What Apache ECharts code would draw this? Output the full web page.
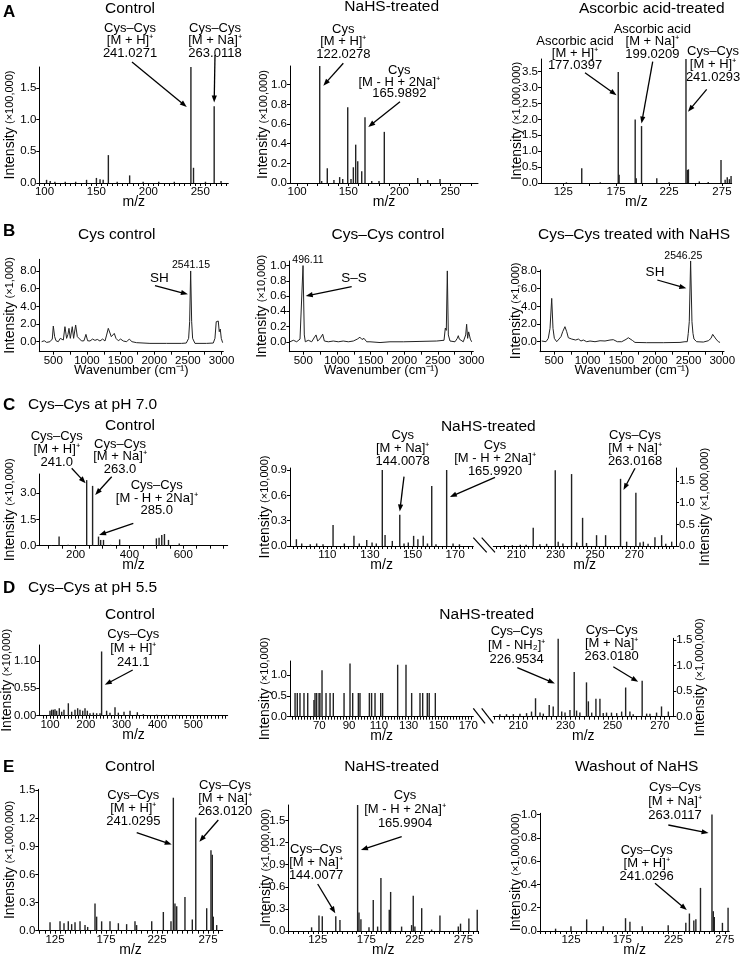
<!DOCTYPE html>
<html><head><meta charset="utf-8">
<script src="https://cdn.jsdelivr.net/npm/echarts@6/dist/echarts.min.js"></script>
<style>html,body{margin:0;padding:0;background:#fff}#c{width:741px;height:954px}</style>
</head><body><div id="c"></div>
<script>
// ---------------- DATA ----------------
const aCtrlMz = [102,105.5,110,120,130,140.5,150,153.5,156.5,161.5,170,182,195,210,225,241,243.5,255,263.4,270];
const aCtrlInt = [0.05,0.03,0.02,0.02,0.02,0.05,0.08,0.06,0.05,0.44,0.02,0.12,0.02,0.02,0.02,1.83,0.24,0.02,1.21,0.03];
const aNaMz = [122.1,124,129.5,136,141.6,144.6,149.5,152.7,155,157.3,159.3,163.2,166.4,173,180.1,185.3,218,227.8,239.8];
const aNaInt = [1.19,0.02,0.15,0.03,0.06,0.04,0.77,0.04,0.16,0.39,0.22,0.12,0.67,0.02,0.02,0.52,0.05,0.03,0.04];
const aAscMz = [128,142.5,160,177,177.8,193,194,199,213.4,225,241,242.3,243.3,253.6,262,274.1,278,280,282,283.6];
const aAscInt = [0.02,0.46,0.02,3.49,0.26,2.0,0.15,1.79,0.15,0.02,3.9,0.41,0.43,0.05,0.03,0.72,0.1,0.18,0.12,0.22];

const bCysWn = [327,366,401,450,485,500,520,540,574,604,624,649,673,698,718,733,753,782,802,832,857,886,921,956,985,1010,1045,1084,1119,1154,1193,1233,1268,1292,1317,1337,1362,1382,1406,1431,1466,1500,1540,1590,1629,1669,1738,1936,2184,2407,2476,2511,2526,2541,2556,2570,2605,2778,2877,2902,2921,2936,2951,2966,2981,2996,3016];
const bCysInt = [0,0.11,-0.08,0,0.3,1.77,0.57,0.11,0,0.38,0.57,0.19,1.7,0.38,0.83,1.51,0.38,1.7,0.38,1.89,0.57,0.57,0.08,0.11,0.83,0.11,0.08,0.3,0.15,0.26,0.08,0.3,0.08,0.75,1.51,1.58,0.57,0.75,0.94,0.38,0.11,0.3,0.08,0,0.3,0,-0.11,-0.19,-0.19,-0.19,-0.15,0.38,2.26,8.0,2.26,0.38,-0.19,-0.19,-0.15,0.38,2.26,2.45,2.34,1.13,1.43,0.38,-0.11];
const bCCWn = [302,352,402,451,476,496,515,530,574,625,659,689,714,748,788,813,872,946,1020,1094,1169,1243,1302,1342,1372,1402,1442,1491,1640,1788,1986,2234,2482,2591,2610,2625,2640,2655,2680,2754,2788,2803,2818,2877,2913,2927,2942,2957,2967,2982,3002];
const bCCInt = [0,0.02,0,0.035,0.02,1.0,0.09,0,0.02,0,0.05,0.09,0.01,0.04,0.1,0.01,0,0.01,0,0.01,0,0.01,0.035,0.06,0.03,0.045,0,0,-0.01,0,0,0.005,0.01,0.02,0.18,0.15,0.93,0.09,0.01,0,0.045,0.08,0.035,0,0.09,0.23,0.045,0.13,0.15,0.035,0];
const bNaWn = [317,341,381,415,441,466,485,505,540,574,604,629,663,689,713,738,763,787,822,862,901,936,986,1035,1109,1184,1258,1332,1381,1406,1441,1506,1570,1604,1629,1664,1703,1877,2124,2372,2446,2480,2495,2510,2530,2550,2565,2580,2600,2620,2719,2793,2833,2858,2877,2907,2942,2967];
const bNaInt = [0.08,0.3,0,0.38,1.51,4.9,1.51,0.38,0,0.3,0.57,1.13,1.7,1.13,0.45,0.57,0.3,0.45,0.19,0.3,0.08,0.19,0,0.08,0,0.11,0.08,0.19,0.23,0.38,0,0,0.26,0.45,0.57,0.15,-0.08,-0.11,-0.11,-0.08,0,0,0.94,2.26,9.13,2.26,0.94,0.3,0.19,0,-0.04,0.11,0.38,0.83,0.75,0.3,0,-0.08];

const cCtrlMz = [110,138.5,172,200,241,263,285,293,303.5,330,363.5,400,460,500,510,520,530,545,585,600];
const cCtrlInt = [0.04,0.52,0.06,0.03,3.75,3.42,0.52,0.33,0.33,0.05,0.36,0.03,0.04,0.42,0.46,0.61,0.67,0.33,0.13,0.03];
const cNaLMz = [95.5,98,102,105,108,112.7,118,122.5,125,128.5,131,133,135.8,137.1,140.5,144,146,148,150.5,152.5,155,157,159,161,166,169,172];
const cNaLInt = [0.08,0.03,0.02,0.03,0.02,0.25,0.03,0.12,0.03,0.07,0.04,0.03,0.9,0.13,0.06,0.37,0.03,0.04,0.12,0.08,0.12,0.03,0.71,0.02,0.9,0.03,0.02];
const cNaRMz = [204,208,212,215,218.6,222,225.4,229.8,231.3,233.7,238.1,240.7,243.7,245.7,250.8,255.4,263,266.1,270.8,272.9,274.6,277,280.5,283.9,286,289];
const cNaRInt = [0.02,0.02,0.03,0.03,0.42,0.04,0.05,1.75,0.1,0.06,1.66,0.08,0.65,0.07,0.25,0.25,1.55,0.1,1.23,0.08,0.1,0.05,0.2,0.25,0.05,0.1];

const dCtrlMz = [100,104.7,109.3,114,118.6,126,132.6,139,151.2,160.5,169.8,177.2,183.7,191.2,197.7,204.2,211.6,221,230.2,239.5,244,258,267.4,281.4,290.7,306.5,323.3,343.7,360.5,397.7,425.6,453.5];
const dCtrlInt = [0.1,0.12,0.12,0.13,0.1,0.15,0.08,0.12,0.25,0.08,0.12,0.15,0.12,0.1,0.15,0.1,0.05,0.06,0.05,0.05,1.29,0.1,0.06,0.17,0.06,0.08,0.1,0.07,0.03,0.02,0.02,0.02];
const dNaLMz = [53.7,55.2,57,59.7,62.2,66.4,67.1,68.2,69.8,70.4,71.8,74.5,77.2,79.4,86.6,90.6,92.4,96.2,97.3,103.6,105.1,107.4,111.2,112.5,122.6,128.2,132,137.6,139.4,142.5,143.8,147.9];
const dNaLInt = [0.57,0.57,0.57,0.57,0.57,0.4,0.57,0.57,0.57,0.57,1.12,0.57,0.57,0.57,0.57,1.28,0.57,0.57,0.57,0.57,0.57,0.57,0.57,0.57,1.25,1.25,0.57,0.57,0.57,0.57,0.57,0.57];
const dNaRMz = [202.2,205,207.9,210.7,213.5,215.6,217.3,219.2,220.6,223.1,224.8,226.9,228.4,229.8,231.9,233.7,234.7,236.1,238.9,239.7,241.1,242.9,244.6,246,247.4,249.5,251.7,253.8,255.5,257.3,258.7,262.5,264.4,265.8,268.6,270.7,273.6];
const dNaRInt = [0.05,0.05,0.05,0.06,0.07,0.1,0.36,0.08,0.06,0.23,0.2,1.52,0.1,0.08,0.13,0.87,0.12,0.08,0.67,0.3,0.08,0.35,0.35,0.07,0.08,0.08,0.07,0.1,0.57,0.1,0.05,0.7,0.06,0.06,0.08,0.2,0.1];

const eCtrlMz = [120.1,129.9,133.8,138,141.3,144.6,149.5,154.4,157,164.2,165.8,170.7,178.9,187.1,195.2,203.4,205,219.8,231.2,238.7,241,242.6,244.3,252.4,259.6,263,273.7,277.9,279.2,280.2,283.5];
const eCtrlInt = [0.09,0.1,0.08,0.1,0.07,0.09,0.1,0.06,0.04,0.29,0.15,0.1,0.1,0.08,0.07,0.1,0.06,0.1,0.2,0.1,1.42,0.29,0.26,0.36,0.12,1.21,0.24,0.86,0.81,0.15,0.06];
const eNaMz = [118.6,126.2,129.6,143.5,147.8,166,167.4,169.4,177.7,182.1,186.6,190,198.6,200,211.3,221.6,223.3,225,232,242.2,250.8,269.7,272,280.6,289.2];
const eNaInt = [0.05,0.21,0.2,0.2,0.15,1.71,0.25,0.16,0.05,0.42,0.06,0.72,0.29,0.53,0.06,0.08,0.48,0.06,0.31,0.02,0.21,0.06,0.1,0.17,0.29];
const eWashMz = [110,125,140.3,156.5,178.2,182.5,194.5,219.8,237,240.5,244.8,246.8,251.3,262.5,263.8,264.8,272.7,278.2];
const eWashInt = [0.02,0.04,0.1,0.04,0.11,0.08,0.04,0.05,0.07,0.15,0.09,0.1,0.37,1.0,0.17,0.12,0.07,0.2];

// ---------------- LAYOUT ----------------
const F = '"Liberation Sans", Arial, Helvetica, sans-serif';
function seq(a,b,s){const r=[];for(let i=0;;i++){const v=+(a+i*s).toFixed(6);if(v>b+1e-9)break;r.push(v);}return r;}
function zip(a,b){return a.map((v,i)=>[v,b[i]]);}
const WN = 'Wavenumber (cm⁻¹)';

const panels = [
 {g:[39.3,67,189,116], x:[95,277], y:[0,1.83], xt:seq(95,275,5), xl:[100,150,200,250], yl:seq(0,1.5,0.5), dec:1, yn:'(×100,000)', yg:22, d:zip(aCtrlMz,aCtrlInt)},
 {g:[290,66,188,117], x:[93,277], y:[0,1.19], xt:seq(100,270,10), xl:[100,150,200,250], yl:seq(0,1,0.2), dec:1, yn:'(×100,000)', yg:19.5, d:zip(aNaMz,aNaInt)},
 {g:[541,59,190.7,124], x:[104,284.2], y:[0,3.9], xt:seq(125,275,25), xl:[125,175,225,275], yl:seq(0,3.5,0.5), dec:1, yn:'(×1,000,000)', yg:17, d:zip(aAscMz,aAscInt)},
 {g:[39.3,259.3,184,92.4], x:[292,3026], y:[-1.13,9.32], xt:seq(500,3000,250), xl:seq(500,3000,500), yl:seq(0,8,2), dec:1, yn:'(×1,000)', yg:22, d:zip(bCysWn,bCysInt), line:true, xn:WN},
 {g:[289.3,261,184,90.7], x:[292,3026], y:[-0.13,1.06], xt:seq(500,3000,250), xl:seq(500,3000,500), yl:seq(0,1,0.2), dec:1, yn:'(×10,000)', yg:20.5, d:zip(bCCWn,bCCInt), line:true, xn:WN},
 {g:[540,270,184,81.7], x:[292,3026], y:[-1.13,8.11], xt:seq(500,3000,250), xl:seq(500,3000,500), yl:seq(0,8,2), dec:1, yn:'(×1,000)', yg:17, d:zip(bNaWn,bNaInt), line:true, xn:WN},
 {g:[39.3,474,188.4,71.7], x:[65,765], y:[0,4.1], xt:seq(100,750,50), xl:[200,400,600], yl:[0,1.5,3], dec:1, yn:'(×10,000)', yg:22, d:zip(cCtrlMz,cCtrlInt)},
 {g:[290,468,183.3,78], x:[92.5,178.5], y:[0,0.924], xt:seq(94,178,2), xl:[110,130,150,170], yl:seq(0,0.9,0.3), dec:1, yn:'(×10,000)', yg:18, d:zip(cNaLMz,cNaLInt)},
 {g:[493.3,468,182.7,78], x:[198.3,291.2], y:[0,1.8], xt:seq(200,290,2), xl:[210,230,250,270], yl:seq(0,1.5,0.5), dec:1, yn:'(×1,000,000)', yg:22, d:zip(cNaRMz,cNaRInt), right:true},
 {g:[39.3,645,188.4,70.7], x:[70.2,595.8], y:[0,1.42], xt:seq(80,590,10), xl:[100,200,300,400,500], yl:[0,0.55,1.1], dec:2, yn:'(×10,000)', yg:25, d:zip(dCtrlMz,dCtrlInt)},
 {g:[290,661,183.3,55.7], x:[50.3,173.4], y:[0,1.34], xt:seq(52,172,2), xl:[70,90,110,130,150,170], yl:[0,0.5,1], dec:1, yn:'(×10,000)', yg:18, d:zip(dNaLMz,dNaLInt)},
 {g:[493.3,638.3,180,78.4], x:[199.4,275.7], y:[0,1.53], xt:seq(200,274,2), xl:[210,230,250,270], yl:seq(0,1.5,0.5), dec:1, yn:'(×1,000,000)', yg:20, d:zip(dNaRMz,dNaRInt), right:true},
 {g:[38.3,789.3,184.4,141.4], x:[108.6,289.4], y:[0,1.51], xt:seq(110,285,5), xl:[125,175,225,275], yl:seq(0,1.5,0.3), dec:1, yn:'(×1,000,000)', yg:21, d:zip(eCtrlMz,eCtrlInt)},
 {g:[288.3,805,190,126], x:[94.6,290.3], y:[0,1.71], xt:seq(95,290,5), xl:[125,175,225,275], yl:seq(0,1.5,0.3), dec:1, yn:'(×1,000,000)', yg:15, d:zip(eNaMz,eNaInt)},
 {g:[540,813.3,189.3,117.7], x:[94.8,279.4], y:[0,1.01], xt:seq(95,275,5), xl:[125,175,225,275], yl:seq(0,1,0.2), dec:1, yn:'(×1,000,000)', yg:17, d:zip(eWashMz,eWashInt)}
];

const option = {
  animation:false,
  backgroundColor:'#fff',
  textStyle:{fontFamily:F},
  grid: panels.map(p=>({left:p.g[0], top:p.g[1], width:p.g[2], height:p.g[3], containLabel:false, outerBoundsMode:'none'})),
  xAxis: panels.map((p,i)=>({
    type:'value', gridIndex:i, min:p.x[0], max:p.x[1],
    axisLine:{show:true,onZero:false,lineStyle:{color:'#000',width:1}},
    axisTick:{show:true,length:3,lineStyle:{color:'#000',width:1},customValues:p.xt},
    axisLabel:{show:true,customValues:p.xl,fontSize:11.5,color:'#000',margin:3,fontFamily:F,hideOverlap:false,formatter:v=>String(v)},
    splitLine:{show:false},
    name:p.xn||'m/z', nameLocation:'middle', nameGap:12, nameMoveOverlap:false,
    nameTextStyle:{fontSize:p.xn?13:14,color:'#000',fontFamily:F}
  })),
  yAxis: panels.map((p,i)=>({
    type:'value', gridIndex:i, min:p.y[0], max:p.y[1], position:p.right?'right':'left',
    axisLine:{show:true,onZero:false,lineStyle:{color:'#000',width:1}},
    axisTick:{show:true,length:3,lineStyle:{color:'#000',width:1},customValues:p.yl},
    axisLabel:{show:true,customValues:p.yl,fontSize:11.5,color:'#000',margin:3,fontFamily:F,hideOverlap:false,formatter:v=>v.toFixed(p.dec)},
    splitLine:{show:false},
    name:'{a|Intensity} {b|'+p.yn+'}', nameLocation:'middle', nameRotate:90, nameGap:p.yg, nameMoveOverlap:false,
    nameTextStyle:{color:'#000',rich:{a:{fontSize:14,fontFamily:F,color:'#000'},b:{fontSize:11,fontFamily:F,color:'#000'}}}
  })),
  series: panels.map((p,i)=> p.line ? {
    type:'line', xAxisIndex:i, yAxisIndex:i, data:p.d, symbol:'none', clip:false,
    lineStyle:{color:'#222',width:1}, silent:true
  } : {
    type:'bar', xAxisIndex:i, yAxisIndex:i, data:p.d, barWidth:1.4,
    itemStyle:{color:'#222'}, silent:true
  })
};

const chart = echarts.init(document.getElementById('c'), null, {renderer:'canvas', width:741, height:954});
chart.setOption(option);

// ---------------- ANNOTATIONS ----------------
const titles = [
 ['A',3,12,17,'left',true],['Control',130,9,15.5],['NaHS-treated',391.7,7,15.5],['Ascorbic acid-treated',651.7,8.5,15.5],
 ['B',3,231,17,'left',true],['Cys control',116.7,235,15.5],['Cys–Cys control',388,235,15.5],['Cys–Cys treated with NaHS',634,235,15.5],
 ['C',3,405,17,'left',true],['Cys–Cys at pH 7.0',28,405,15.5,'left'],['Control',130,425.7,15.5],['NaHS-treated',488.3,426.7,15.5],
 ['D',3,588,17,'left',true],['Cys–Cys at pH 5.5',28,588,15.5,'left'],['Control',130,614.3,15.5],['NaHS-treated',486.7,614.3,15.5],
 ['E',3,767,17,'left',true],['Control',130,767,15.5],['NaHS-treated',391.7,767,15.5],['Washout of NaHS',636.7,767,15.5],
 ['2541.15',191,265,10.5],['SH',159.3,278.3,13.5],['496.11',308,260,10.5],['S–S',354,278.3,13.5],['2546.25',683.3,256,10.5],['SH',655,272.3,13.5]
];
const notes = [
 ['Cys–Cys\n[M + H]⁺\n241.0271',130,40.5,12.5],
 ['Cys–Cys\n[M + Na]⁺\n263.0118',215,40.5,12.5],
 ['Cys\n[M + H]⁺\n122.0278',343.3,41.8,12.5],
 ['Cys\n[M - H + 2Na]⁺\n165.9892',399.3,82.2,11.7],
 ['Ascorbic acid\n[M + H]⁺\n177.0397',575,53.3,11.7],
 ['Ascorbic acid\n[M + Na]⁺\n199.0209',652.3,41.7,12.3],
 ['Cys–Cys\n[M + H]⁺\n241.0293',713,64.3,12.8],
 ['Cys–Cys\n[M + H]⁺\n241.0',56.7,449.4,12.8],
 ['Cys–Cys\n[M + Na]⁺\n263.0',120,456.9,12.8],
 ['Cys–Cys\n[M - H + 2Na]⁺\n285.0',156.7,498.4,12.5],
 ['Cys\n[M + Na]⁺\n144.0078',402.7,448.8,13],
 ['Cys\n[M - H + 2Na]⁺\n165.9920',495,458.6,13],
 ['Cys–Cys\n[M + Na]⁺\n263.0168',635,448.1,13],
 ['Cys–Cys\n[M + H]⁺\n241.1',133.3,648.5,13.6],
 ['Cys–Cys\n[M - NH₂]⁺\n226.9534',516.7,645.6,14],
 ['Cys–Cys\n[M + Na]⁺\n263.0180',611.7,643.3,13.3],
 ['Cys–Cys\n[M + H]⁺\n241.0295',133.3,808.3,13.3],
 ['Cys–Cys\n[M + Na]⁺\n263.0120',225,798.3,13.3],
 ['Cys\n[M - H + 2Na]⁺\n165.9904',405,809.3,14],
 ['Cys–Cys\n[M + Na]⁺\n144.0077',316,862.8,13],
 ['Cys–Cys\n[M + Na]⁺\n263.0117',675,801,14],
 ['Cys–Cys\n[M + H]⁺\n241.0296',646.7,863.1,13]
];
// [gridIndex, tail pixel, head in data coords]
const arrows = [
 [0,[132,62],[237,1.2]],[0,[215,55],[263.4,1.27]],
 [1,[343.3,63.3],[125.6,0.99]],[1,[400,101.7],[169.6,0.57]],
 [2,[585,72.7],[175.4,2.76]],[2,[652.7,61.7],[199,1.87]],[2,[706.7,89.3],[242.9,2.24]],
 [3,[155,285.7],[2500,5.36]],[4,[351.7,286.7],[536,0.6]],[5,[657.3,280],[2466,6.04]],
 [6,[71.7,468.3],[237,3.57]],[6,[111.7,476.7],[272.7,2.9]],[6,[133.3,523.3],[287,0.61]],
 [7,[404,476.7],[144,0.41]],[7,[495,477.3],[167.5,0.58]],[8,[635,468.3],[264.5,1.29]],
 [9,[132.7,670],[253,0.62]],[11,[517.3,667.7],[225.5,0.65]],[11,[613.3,666.7],[260.8,0.68]],
 [12,[136.7,832.7],[239.4,0.92]],[12,[218.3,820],[266.5,0.95]],
 [13,[401.7,836.7],[169.4,1.1]],[13,[317.7,884],[143,0.24]],
 [14,[668.3,825],[259.2,0.84]],[14,[655,883.3],[238,0.18]]
];
const breaks = [
 [[473.3,537.7],[486.7,552.3]],[[481.7,537.7],[495,552.3]],
 [[473.3,708.3],[485,723.3]],[[481.7,708.3],[493.3,723.3]]
];

const els = [];
titles.forEach(t=>{
  els.push({type:'text', x:t[1], y:t[2], silent:true, style:{text:t[0], fontSize:t[3], fontFamily:F, fontWeight:t[5]?'bold':'normal', fill:'#000', align:t[4]||'center', verticalAlign:'middle'}});
});
notes.forEach(n=>{
  els.push({type:'text', x:n[1], y:n[2], silent:true, style:{text:n[0], fontSize:13, fontFamily:F, fill:'#000', align:'center', verticalAlign:'middle', lineHeight:n[3]}});
});
arrows.forEach(a=>{
  const t=a[1], h=chart.convertToPixel({gridIndex:a[0]}, a[2]);
  const dx=h[0]-t[0], dy=h[1]-t[1], L=Math.hypot(dx,dy), ux=dx/L, uy=dy/L;
  const hl=7, hw=2.6, bx=h[0]-ux*hl, by=h[1]-uy*hl;
  els.push({type:'line', silent:true, shape:{x1:t[0],y1:t[1],x2:bx+ux*1,y2:by+uy*1}, style:{stroke:'#000',lineWidth:1.3}});
  els.push({type:'polygon', silent:true, shape:{points:[[h[0],h[1]],[bx-uy*hw,by+ux*hw],[bx+uy*hw,by-ux*hw]]}, style:{fill:'#000'}});
});
breaks.forEach(b=>{
  els.push({type:'line', silent:true, shape:{x1:b[0][0],y1:b[0][1],x2:b[1][0],y2:b[1][1]}, style:{stroke:'#000',lineWidth:1.2}});
});
chart.setOption({graphic:{elements:els}});
</script></body></html>
